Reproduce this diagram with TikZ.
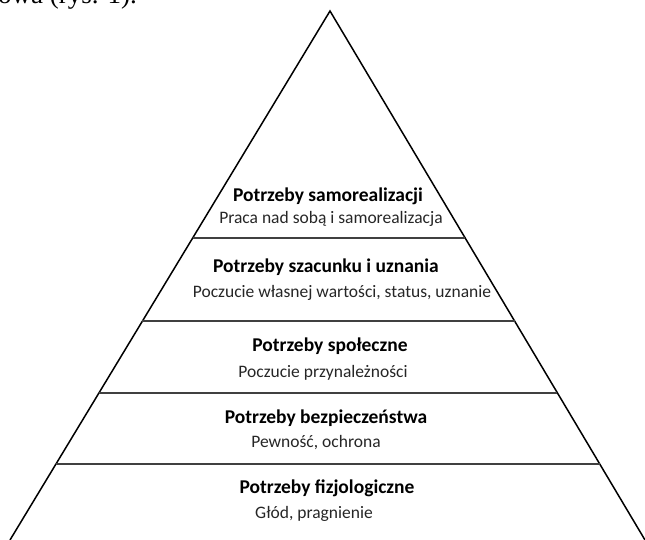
\documentclass[tikz,border=0pt]{standalone}
\usepackage{fontspec}
\setmainfont{Carlito}
\newfontfamily\docfont{Liberation Serif}
\usetikzlibrary{calc}

\begin{document}
\begin{tikzpicture}[x=1pt, y=-1pt,
    side/.style={line width=1.5pt},
    level/.style={line width=1.5pt, draw=black!75},
    title/.style={font=\fontsize{19.5}{22}\selectfont\bfseries, anchor=base, inner sep=0pt},
    sub/.style={font=\fontsize{17.5}{20}\selectfont, anchor=base, inner sep=0pt, text=black!85}]
  \useasboundingbox (0,0) rectangle (645,540);
  % page text cut off by the crop
  \begin{scope}
    \clip (0,0) rectangle (645,540);
    \node[font=\docfont\fontsize{27}{30}\selectfont, anchor=base west, inner sep=0pt] (cap) at (-2,4) {owa (rys. 1).};
  \end{scope}
  % pyramid
  \coordinate (top) at (330,11);
  \coordinate (bl) at (10,540);
  \coordinate (br) at (645,540);
  \draw[side] (bl) -- (top) -- (br);
  \foreach \t [count=\i] in {0.429,0.586,0.722,0.856} {
    \coordinate (l\i) at ($(top)!\t!(bl)$);
    \coordinate (r\i) at ($(top)!\t!(br)$);
    \draw[level] (l\i) -- (r\i);
  }
  % levels, top to bottom
  \node[title] (t1) at (328,201) {Potrzeby samorealizacji};
  \node[sub] (s1) at (331,224) {Praca nad sobą i samorealizacja};
  \node[title] (t2) at (326,272) {Potrzeby szacunku i uznania};
  \node[sub] (s2) at (342,297) {Poczucie własnej wartości, status, uznanie};
  \node[title] (t3) at (330,351) {Potrzeby społeczne};
  \node[sub] (s3) at (323,377) {Poczucie przynależności};
  \node[title] (t4) at (326,423) {Potrzeby bezpieczeństwa};
  \node[sub] (s4) at (316,447) {Pewność, ochrona};
  \node[title] (t5) at (327,493) {Potrzeby fizjologiczne};
  \node[sub] (s5) at (314,518) {Głód, pragnienie};
\end{tikzpicture}
\end{document}
